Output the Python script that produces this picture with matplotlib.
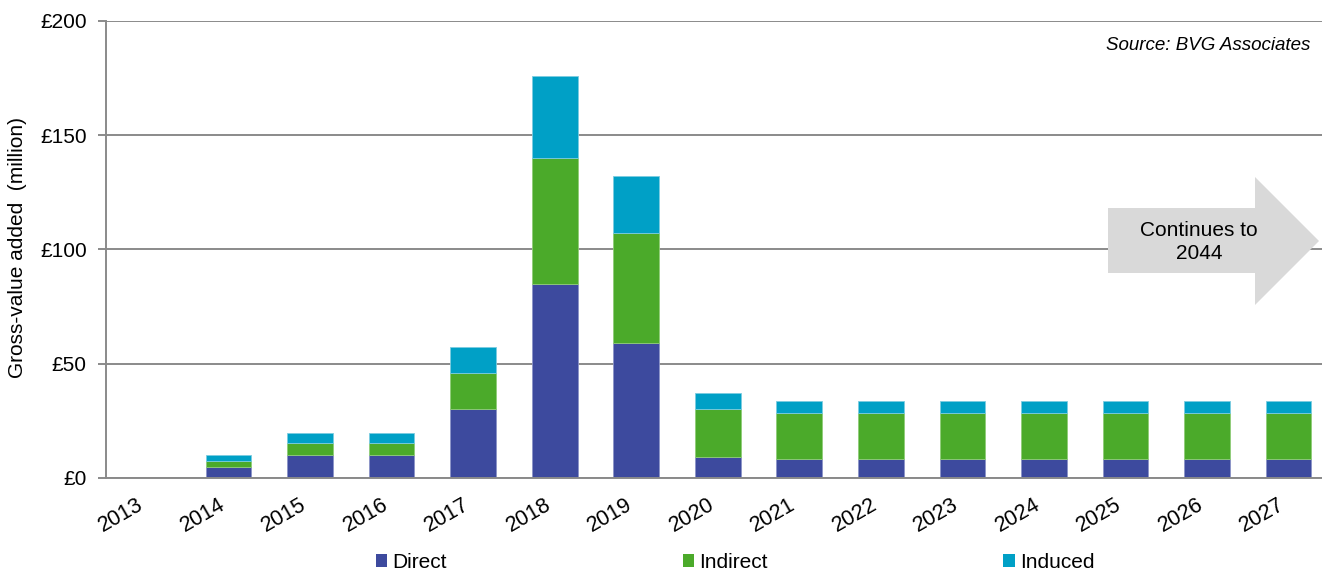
import matplotlib
matplotlib.use("Agg")
import matplotlib.pyplot as plt
from matplotlib.patches import Polygon, Patch
import numpy as np

plt.rcParams['font.family'] = ['Liberation Sans', 'DejaVu Sans']

# Gross-value added by year, £ million
years = ["2013", "2014", "2015", "2016", "2017", "2018", "2019", "2020",
         "2021", "2022", "2023", "2024", "2025", "2026", "2027"]
direct = [0, 4.6, 9.8, 9.8, 30.0, 85.0, 59.0, 9.0,
          8.2, 8.2, 8.2, 8.2, 8.2, 8.2, 8.2]
indirect = [0, 2.7, 5.4, 5.4, 15.7, 55.0, 48.0, 21.0,
            20.0, 20.0, 20.0, 20.0, 20.0, 20.0, 20.0]
induced = [0, 2.5, 4.4, 4.4, 11.4, 35.8, 25.0, 7.2,
           5.4, 5.4, 5.4, 5.4, 5.4, 5.4, 5.4]
series_names = ["Direct", "Indirect", "Induced"]
y_ticks = [0, 50, 100, 150, 200]
y_tick_labels = ["£0", "£50", "£100", "£150", "£200"]

colors = ["#3D4A9E", "#4BAA2A", "#00A0C6"]
edges = ["#8C94C8", "#8FCC78", "#7CCCE0"]
grid_col = "#8A8A8A"

W, H = 1322, 572
fig = plt.figure(figsize=(W / 100, H / 100), dpi=100)
ax = fig.add_axes([106.3 / W, (H - 477.7) / H, (1329.2 - 106.3) / W, 456.8 / H])

x = np.arange(len(years))
bottom = np.zeros(len(years))
for vals, c, ec, name in zip([direct, indirect, induced], colors, edges, series_names):
    vals = np.array(vals, dtype=float)
    ax.bar(x, vals, width=0.56, bottom=bottom, color=c, edgecolor=ec,
           linewidth=0.6, label=name, zorder=3)
    bottom += vals

ax.set_xlim(-0.5, len(years) - 0.5)
ax.set_ylim(0, 200)
ax.set_yticks(y_ticks)
ax.set_yticklabels(y_tick_labels, fontsize=15)
ax.set_xticks(x)
ax.set_xticklabels(years, fontsize=15.5, rotation=30, ha='right',
                   rotation_mode='default')
ax.tick_params(axis='x', length=0, pad=12)
ax.tick_params(axis='y', length=6, width=1.4, color=grid_col, pad=8)

ax.yaxis.grid(True, color=grid_col, linewidth=1.4)
ax.set_axisbelow(True)
for s in ["top", "right"]:
    ax.spines[s].set_visible(False)
for s in ["left", "bottom"]:
    ax.spines[s].set_color(grid_col)
    ax.spines[s].set_linewidth(1.4)
    ax.spines[s].set_zorder(4)

ax.set_ylabel("Gross-value added  (million)", fontsize=15)
ax.yaxis.set_label_coords(-0.0645, 0.505)

# Source note
fig.text(1310 / W, 1 - 45 / H, "Source: BVG Associates", fontsize=13.5,
         style='italic', ha='right', va='center')

# "Continues" arrow
pts_px = [(1108, 208), (1255, 208), (1255, 177), (1319, 241),
          (1255, 305), (1255, 273), (1108, 273)]
pts = [(px / W, 1 - py / H) for px, py in pts_px]
fig.patches.append(Polygon(pts, closed=True, facecolor="#D9D9D9",
                           edgecolor="none", transform=fig.transFigure,
                           figure=fig, zorder=5))
fig.text(1199 / W, 1 - 242 / H, "Continues to\n2044", fontsize=15,
         ha='center', va='center', linespacing=1.3, zorder=6)

# Legend along the bottom
handles = [Patch(facecolor=c, edgecolor='none') for c in colors]
fig.legend(handles, series_names, loc='center left',
           bbox_to_anchor=(376 / W, 1 - 562.5 / H), ncol=3, frameon=False,
           fontsize=15, borderpad=0, borderaxespad=0, handlelength=0.55,
           handleheight=0.55, handletextpad=0.25, columnspacing=11.3)

fig.savefig("out.png", dpi=100)
